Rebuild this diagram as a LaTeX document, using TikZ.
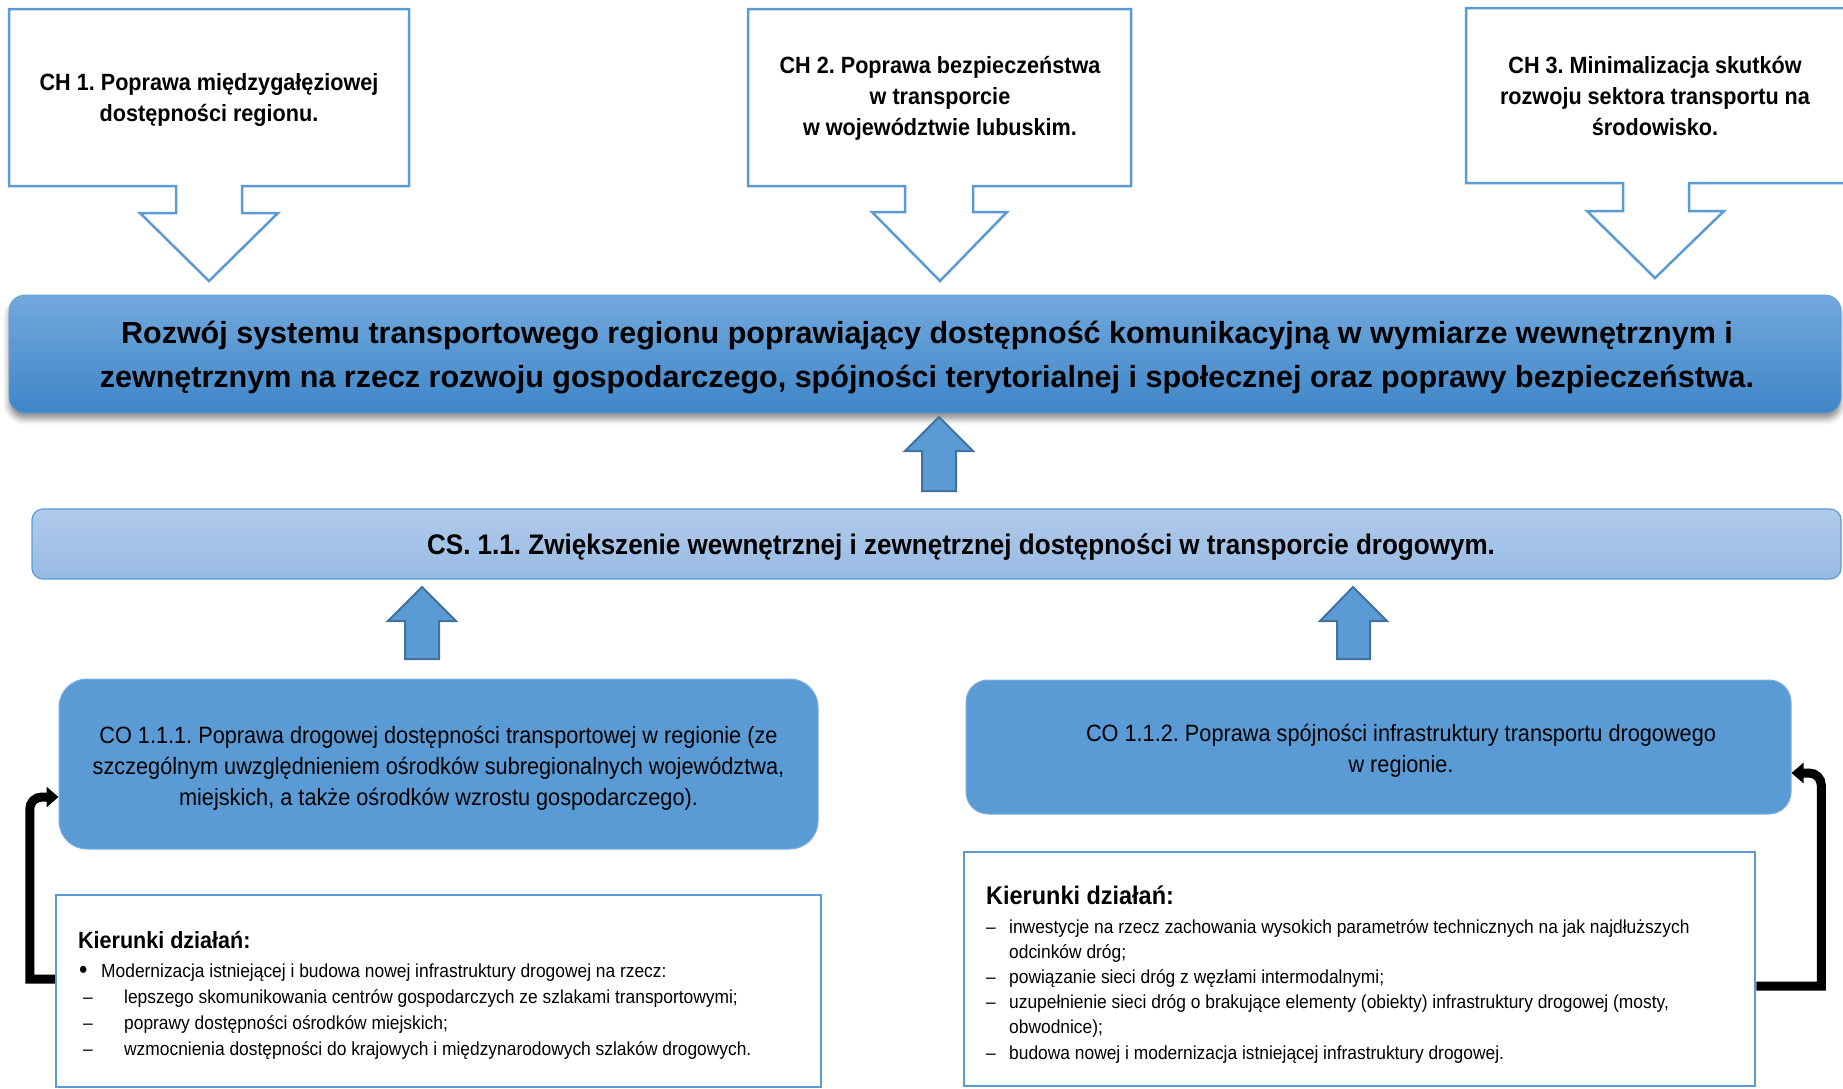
\documentclass[tikz,border=0pt]{standalone}
\usepackage{fontspec}
\setmainfont[FakeStretch=0.92]{Liberation Sans}
\newfontfamily\widefont[FakeStretch=1.0]{Liberation Sans}
\usetikzlibrary{arrows.meta,shadows.blur}
\definecolor{cbord}{HTML}{5B9BD5}
\definecolor{cfill}{HTML}{5B9BD5}
\definecolor{cdark}{HTML}{41719C}
\definecolor{btop}{HTML}{72A8DD}
\definecolor{bbot}{HTML}{3F86C8}
\definecolor{ctop}{HTML}{B0CBEB}
\definecolor{cbot}{HTML}{98BAE3}
\newcommand\fch{\fontsize{23.5}{31}\selectfont\bfseries}
\newcommand\fban{\widefont\fontsize{30.5}{44}\selectfont\bfseries}
\newcommand\fcs{\fontsize{28.3}{34}\selectfont\bfseries}
\newcommand\fco{\fontsize{23.6}{31}\selectfont}
\newcommand\fheadL{\fontsize{23.4}{26}\selectfont\bfseries}
\newcommand\fheadR{\fontsize{25.5}{28}\selectfont\bfseries}
\newcommand\fbodyL{\fontsize{18.9}{26}\selectfont}
\newcommand\fbodyR{\fontsize{18.9}{25.2}\selectfont}
\frenchspacing
\begin{document}
\begin{tikzpicture}[x=1pt,y=-1pt,
  callout/.style={draw=cbord,line width=2.5pt,fill=white,line join=miter},
  chtext/.style={align=center,font=\fch,inner sep=0pt},
  blockup/.style={draw=cdark,line width=2pt,fill=cfill,line join=miter},
  cobox/.style={draw=cbord!80!white,line width=1pt,fill=cfill,rounded corners=28pt,inner sep=0pt},
  kbox/.style={draw=cbord,line width=2.5pt,fill=white,inner sep=0pt},
  elbow/.style={line width=9pt,black,-{Triangle[length=12pt,width=20pt]}},
  ]
\useasboundingbox (0,0) rectangle (1843,1088);
\clip (0,0) rectangle (1843,1088);

% ---- CH callouts
\draw[callout] (9,9) -- (409,9) -- (409,186) -- (242,186) -- (242,213) -- (278,213) -- (209,281) -- (140,213) -- (176,213) -- (176,186) -- (9,186) -- cycle;
\node[chtext] (ch1) at (209,100) {CH 1. Poprawa międzygałęziowej\\dostępności regionu.};

\draw[callout] (748,9) -- (1131,9) -- (1131,186) -- (973,186) -- (973,212) -- (1007,212) -- (940,281) -- (872,212) -- (905,212) -- (905,186) -- (748,186) -- cycle;
\node[chtext] (ch2) at (940,98) {CH 2. Poprawa bezpieczeństwa\\w transporcie\\w województwie lubuskim.};

\draw[callout] (1466,8) -- (1860,8) -- (1860,183) -- (1689,183) -- (1689,211) -- (1724,211) -- (1655,278) -- (1587,211) -- (1623,211) -- (1623,183) -- (1466,183) -- cycle;
\node[chtext] (ch3) at (1655,96) {CH 3. Minimalizacja skutków\\rozwoju sektora transportu na\\środowisko.};

% ---- banner
\node[rounded corners=16pt,top color=btop,bottom color=bbot,draw=bbot!80!white,line width=0.8pt,
      minimum width=1832pt,minimum height=118pt,inner sep=0pt,
      blur shadow={shadow xshift=0pt,shadow yshift=-6pt,shadow blur radius=6pt,shadow opacity=45}] (ban) at (925,354) {};
\node[align=center,font=\fban,inner sep=0pt] (bant) at (927,358) {Rozwój systemu transportowego regionu poprawiający dostępność komunikacyjną w wymiarze wewnętrznym i\\zewnętrznym na rzecz rozwoju gospodarczego, spójności terytorialnej i społecznej oraz poprawy bezpieczeństwa.};

% ---- up arrow to banner
\draw[blockup] (939,417) -- (973,451) -- (956,451) -- (956,491) -- (922,491) -- (922,451) -- (905,451) -- cycle;

% ---- CS box
\node[rounded corners=11pt,top color=ctop,bottom color=cbot,draw=cbord,line width=1.2pt,
      minimum width=1809pt,minimum height=70pt,inner sep=0pt] (cs) at (936.5,544) {};
\node[font=\fcs,inner sep=0pt] (cst) at (961,547) {CS. 1.1. Zwiększenie wewnętrznej i zewnętrznej dostępności w transporcie drogowym.};

% ---- up arrows to CS
\draw[blockup] (422,587) -- (456,621) -- (439,621) -- (439,659) -- (405,659) -- (405,621) -- (388,621) -- cycle;
\draw[blockup] (1353,587) -- (1387,621) -- (1370,621) -- (1370,659) -- (1337,659) -- (1337,621) -- (1320,621) -- cycle;

% ---- CO boxes
\node[cobox,minimum width=759pt,minimum height=170pt] (co1) at (438.5,764) {};
\node[align=center,font=\fco,inner sep=0pt] (co1t) at (438.5,768.5) {CO 1.1.1. Poprawa drogowej dostępności transportowej w regionie (ze\\szczególnym uwzględnieniem ośrodków subregionalnych województwa,\\miejskich, a także ośrodków wzrostu gospodarczego).};

\node[cobox,rounded corners=22pt,minimum width=825pt,minimum height=134pt] (co2) at (1378.5,747) {};
\node[align=center,font=\fco,inner sep=0pt] (co2t) at (1401,751) {CO 1.1.2. Poprawa spójności infrastruktury transportu drogowego\\w regionie.};

% ---- Kierunki boxes
\node[kbox,minimum width=765pt,minimum height=192pt] (kl) at (438.5,991) {};
\node[anchor=north west,align=left,font=\fbodyL,inner sep=0pt] (klt) at (78,931) {{\fheadL Kierunki działań:}\\[3pt]
\makebox[23pt][l]{\hspace*{1pt}\raisebox{-1.5pt}{\fontsize{26}{20}\selectfont•}}Modernizacja istniejącej i budowa nowej infrastruktury drogowej na rzecz:\\
\makebox[46pt][l]{\hspace*{5pt}–}lepszego skomunikowania centrów gospodarczych ze szlakami transportowymi;\\
\makebox[46pt][l]{\hspace*{5pt}–}poprawy dostępności ośrodków miejskich;\\
\makebox[46pt][l]{\hspace*{5pt}–}wzmocnienia dostępności do krajowych i międzynarodowych szlaków drogowych.};

\node[kbox,minimum width=791pt,minimum height=234pt] (kr) at (1359.5,969) {};
\node[anchor=north west,align=left,font=\fbodyR,inner sep=0pt] (krt) at (986,886) {{\fheadR Kierunki działań:}\\[3pt]
\makebox[23pt][l]{–}inwestycje na rzecz zachowania wysokich parametrów technicznych na jak najdłuższych\\
\hspace*{23pt}odcinków dróg;\\
\makebox[23pt][l]{–}powiązanie sieci dróg z węzłami intermodalnymi;\\
\makebox[23pt][l]{–}uzupełnienie sieci dróg o brakujące elementy (obiekty) infrastruktury drogowej (mosty,\\
\hspace*{23pt}obwodnice);\\
\makebox[23pt][l]{–}budowa nowej i modernizacja istniejącej infrastruktury drogowej.};

% ---- elbow connectors
\draw[elbow] ([yshift=12pt]kl.west) -- ++(-25,0) [rounded corners=12pt] |- ([yshift=-33pt]co1.west);
\draw[elbow] ([yshift=-17pt]kr.east) -- ++(65,0) [rounded corners=12pt] |- ([yshift=-26pt]co2.east);
\end{tikzpicture}
\end{document}
